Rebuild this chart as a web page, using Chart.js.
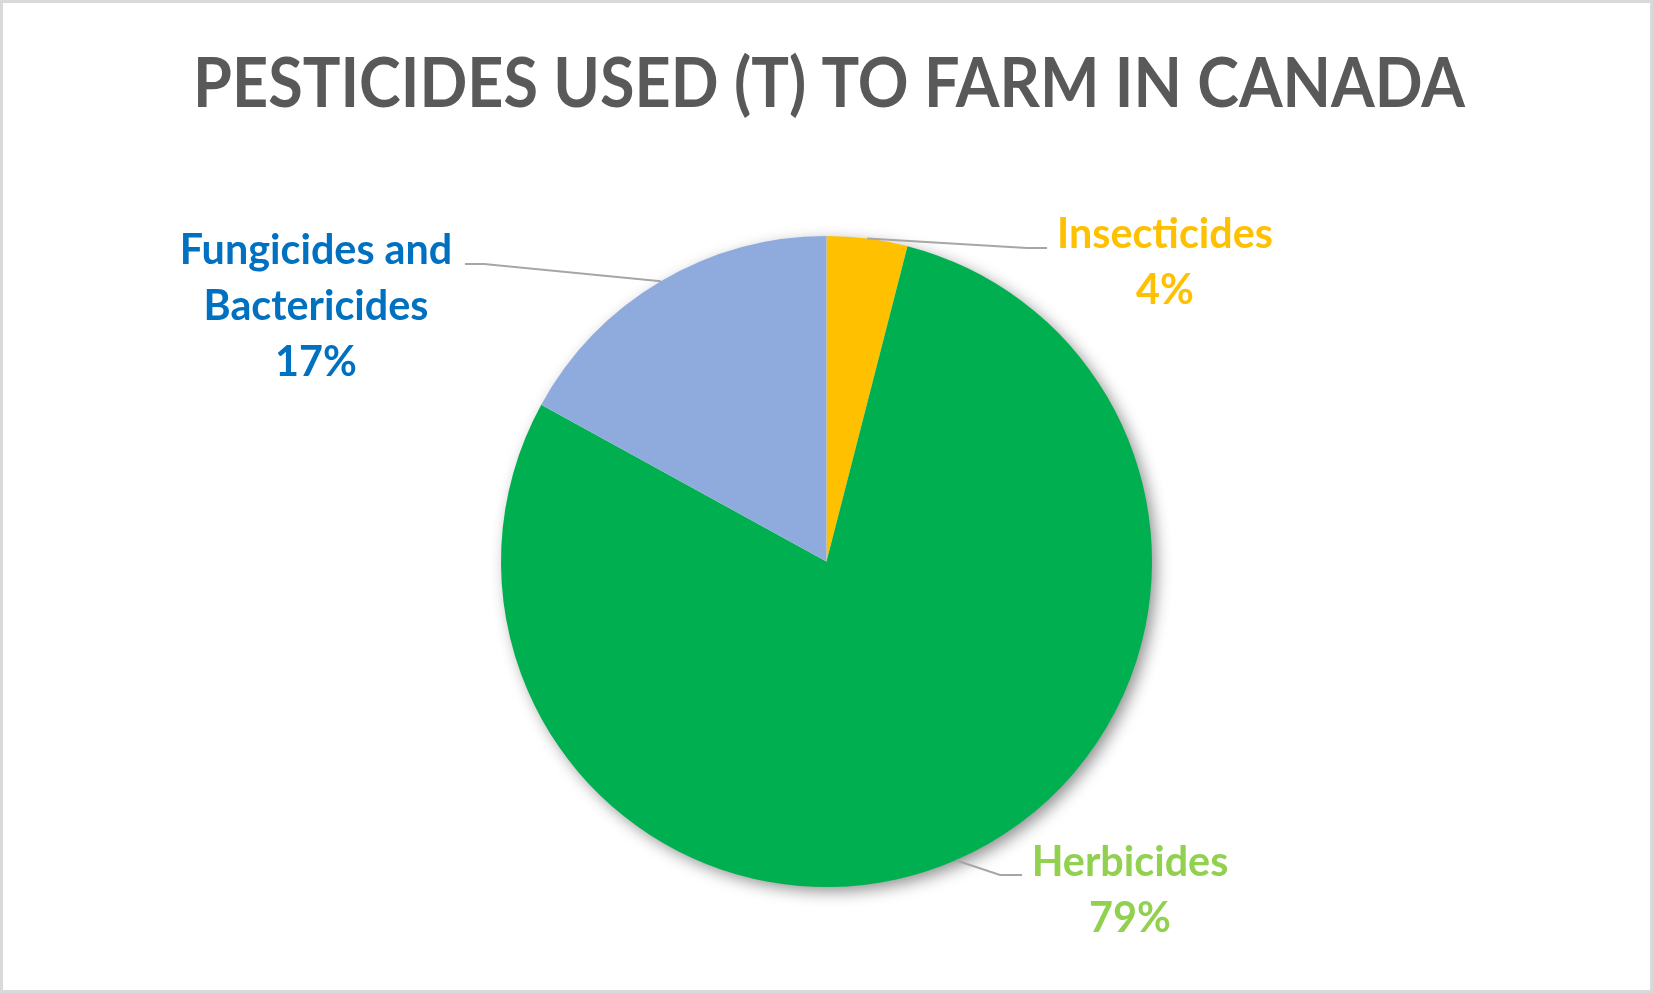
<!DOCTYPE html>
<html>
<head>
<meta charset="utf-8">
<title>Pesticides used (t) to farm in Canada</title>
<script src="https://cdn.jsdelivr.net/npm/chart.js@4.4.1/dist/chart.umd.min.js"></script>
<style>
  html, body { margin: 0; padding: 0; background: #fff; }
  canvas { display: block; }
</style>
</head>
<body>
<canvas id="pesticidesChart" width="1653" height="993"></canvas>
<script>
// =========================
// Data
// =========================
const chartTitle = "PESTICIDES USED (T) TO FARM IN CANADA";
const categories = ["Insecticides", "Herbicides", "Fungicides and Bactericides"];
const labelLines = [["Insecticides"], ["Herbicides"], ["Fungicides and", "Bactericides"]];
const shares = [4, 79, 17];

const sliceColors = ["#FFC000", "#00B050", "#8FAADC"];
const labelColors = ["#FFC000", "#92D050", "#0070C0"];

// label placement (style only): centre x, first baseline, leader elbow + end
const labelStyle = [
  { x: 1165, y: 248, elbow: [1027, 248], end: [1047, 248] },
  { x: 1130, y: 876, elbow: [1000, 875], end: [1022, 875] },
  { x: 316, y: 264, elbow: [484, 264], end: [465, 264] },
];

const fontFamily = "Lato, 'Open Sans', 'Noto Sans', sans-serif";
const labelFont = "bold 42px " + fontFamily;
const titleFont = "bold 69px " + fontFamily;
const lineHeight = 56;

// horizontal squeeze so the text takes the same width as the original (Calibri)
function squeezeFor(ctx, font, text, targetWidth) {
  ctx.save();
  ctx.font = font;
  const w = ctx.measureText(text).width;
  ctx.restore();
  return w > 0 ? targetWidth / w : 1;
}

function drawText(ctx, text, x, y, font, color, sx) {
  ctx.save();
  ctx.font = font;
  ctx.fillStyle = color;
  ctx.textAlign = "center";
  ctx.textBaseline = "alphabetic";
  ctx.translate(x, y);
  ctx.scale(sx, 1);
  ctx.fillText(text, 0, 0);
  ctx.restore();
}

const decorPlugin = {
  id: "decor",
  beforeDraw(chart) {
    const ctx = chart.ctx;
    ctx.save();
    ctx.fillStyle = "#fff";
    ctx.fillRect(0, 0, chart.width, chart.height);
    ctx.strokeStyle = "#d9d9d9";
    ctx.lineWidth = 3;
    ctx.strokeRect(1.5, 1.5, chart.width - 3, chart.height - 3);
    ctx.restore();

    // title
    const sx = squeezeFor(ctx, titleFont, chartTitle, 1272);
    drawText(ctx, chartTitle, 829, 107, titleFont, "#595959", sx);
  },
  beforeDatasetsDraw(chart) {
    // soft outer shadow under the whole pie
    const arc = chart.getDatasetMeta(0).data[0];
    if (!arc) return;
    const ctx = chart.ctx;
    ctx.save();
    ctx.shadowColor = "rgba(0, 0, 0, 0.45)";
    ctx.shadowBlur = 16;
    ctx.shadowOffsetX = 5;
    ctx.shadowOffsetY = 5;
    ctx.fillStyle = "#fff";
    ctx.beginPath();
    ctx.arc(arc.x, arc.y, arc.outerRadius - 1, 0, Math.PI * 2);
    ctx.fill();
    ctx.restore();
  },
  afterDatasetsDraw(chart) {
    const ctx = chart.ctx;
    const meta = chart.getDatasetMeta(0);
    const values = chart.data.datasets[0].data;
    const total = values.reduce((s, v) => s + v, 0);
    const sx = squeezeFor(ctx, labelFont, labelLines[0][0], 216);

    meta.data.forEach((arc, i) => {
      const st = labelStyle[i];
      const mid = (arc.startAngle + arc.endAngle) / 2;
      const px = arc.x + Math.cos(mid) * arc.outerRadius;
      const py = arc.y + Math.sin(mid) * arc.outerRadius;

      // leader line
      ctx.save();
      ctx.strokeStyle = "#a6a6a6";
      ctx.lineWidth = 2;
      ctx.beginPath();
      ctx.moveTo(px, py);
      ctx.lineTo(st.elbow[0], st.elbow[1]);
      ctx.lineTo(st.end[0], st.end[1]);
      ctx.stroke();
      ctx.restore();

      const lines = labelLines[i].concat([Math.round(values[i] / total * 100) + "%"]);
      lines.forEach((txt, k) => {
        drawText(ctx, txt, st.x, st.y + k * lineHeight, labelFont, labelColors[i], sx);
      });
    });
  },
};

function initPieChart() {
  const el = document.getElementById("pesticidesChart");
  if (!el) return;

  new Chart(el.getContext("2d"), {
    type: "pie",
    data: {
      labels: categories,
      datasets: [
        {
          data: shares,
          backgroundColor: sliceColors,
          borderWidth: 0,
          hoverOffset: 0,
        },
      ],
    },
    options: {
      responsive: false,
      animation: false,
      devicePixelRatio: 1,
      layout: {
        padding: { top: 236, bottom: 106, left: 501, right: 501 },
      },
      plugins: {
        legend: { display: false },
        tooltip: { enabled: false },
        title: { display: false },
      },
    },
    plugins: [decorPlugin],
  });
}

initPieChart();
</script>
</body>
</html>
